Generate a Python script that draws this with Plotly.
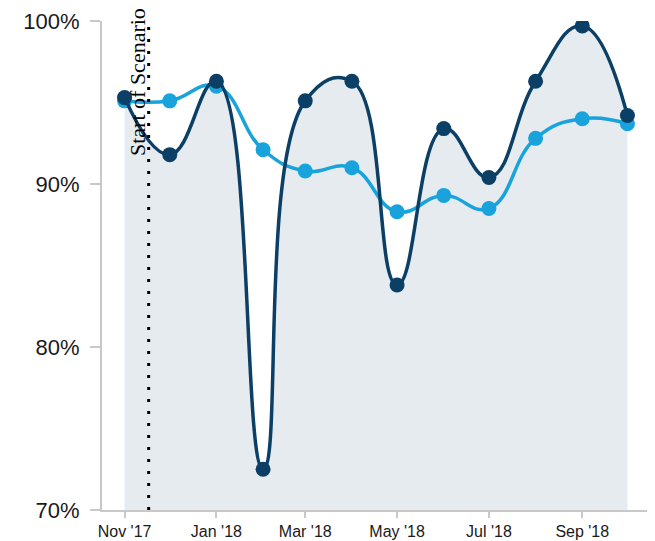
import plotly.graph_objects as go

# Chart colours
COLORS = {
    "dark": "#0b3f66",
    "light": "#18a3dc",
    "fill": "#e6ebf0",
    "axis": "#c8c8c8",
    "text": "#1a1a1a",
}

months = ["2017-11-01", "2017-12-01", "2018-01-01", "2018-02-01", "2018-03-01", "2018-04-01",
          "2018-05-01", "2018-06-01", "2018-07-01", "2018-08-01", "2018-09-01", "2018-10-01"]
actual = [95.3, 91.8, 96.3, 72.5, 95.1, 96.3, 83.8, 93.4, 90.4, 96.3, 99.7, 94.2]
baseline = [95.1, 95.1, 96.0, 92.1, 90.8, 91.0, 88.3, 89.3, 88.5, 92.8, 94.0, 93.7]
scenario_start = "2017-11-17"
scenario_label = "Start of Scenario"

SMOOTH = 1.3

fig = go.Figure()

# shaded area under the dark series
fig.add_trace(go.Scatter(
    x=months, y=actual, mode="lines",
    line=dict(width=0, shape="spline", smoothing=SMOOTH, color=COLORS["fill"]),
    fill="tozeroy", fillcolor=COLORS["fill"],
    hoverinfo="skip", showlegend=False,
))
fig.add_trace(go.Scatter(
    x=months, y=baseline, mode="lines+markers",
    line=dict(color=COLORS["light"], width=3.5, shape="spline", smoothing=SMOOTH),
    marker=dict(size=15, color=COLORS["light"]),
    showlegend=False,
))
fig.add_trace(go.Scatter(
    x=months, y=actual, mode="lines+markers",
    line=dict(color=COLORS["dark"], width=3.5, shape="spline", smoothing=SMOOTH),
    marker=dict(size=15, color=COLORS["dark"]),
    showlegend=False,
))

# scenario marker
fig.add_shape(type="line", xref="x", yref="y", x0=scenario_start, x1=scenario_start,
              y0=70, y1=100, line=dict(color="black", width=3, dash="3px,9px"))
fig.add_annotation(x=scenario_start, xref="x", y=1.03, yref="paper", text=scenario_label,
                   textangle=-90, showarrow=False, xshift=-11,
                   xanchor="center", yanchor="top",
                   font=dict(family="Liberation Serif", size=22, color="black"))
# x axis line runs under the y ticks
fig.add_shape(type="line", xref="paper", yref="y", x0=-0.019, x1=0, y0=70, y1=70,
              line=dict(color=COLORS["axis"], width=2))

# page body adds an 8px offset, so the figure is 8px smaller on each side
fig.update_layout(
    width=647, height=533,
    margin=dict(l=94, r=8, t=13, b=31, autoexpand=False),
    plot_bgcolor="white", paper_bgcolor="white",
    font=dict(family="Liberation Sans, Arial, sans-serif", color=COLORS["text"]),
    showlegend=False,
)
fig.update_xaxes(
    type="date", range=["2017-10-17", "2018-10-14"],
    tick0="2017-11-01", dtick="M2", tickformat="%b '%y",
    showgrid=False, zeroline=False, automargin=False,
    showline=True, linecolor=COLORS["axis"], linewidth=2,
    ticks="outside", ticklen=6, tickcolor=COLORS["axis"], tickwidth=2,
    tickfont=dict(size=16),
)
fig.update_yaxes(
    range=[70, 100], dtick=10, ticksuffix="%",
    showgrid=False, zeroline=False, automargin=False,
    showline=True, linecolor=COLORS["axis"], linewidth=2,
    ticks="outside", ticklen=10, tickcolor=COLORS["axis"], tickwidth=2,
    ticklabelstandoff=6,
    tickfont=dict(size=22),
)

fig.write_html("out.html")
